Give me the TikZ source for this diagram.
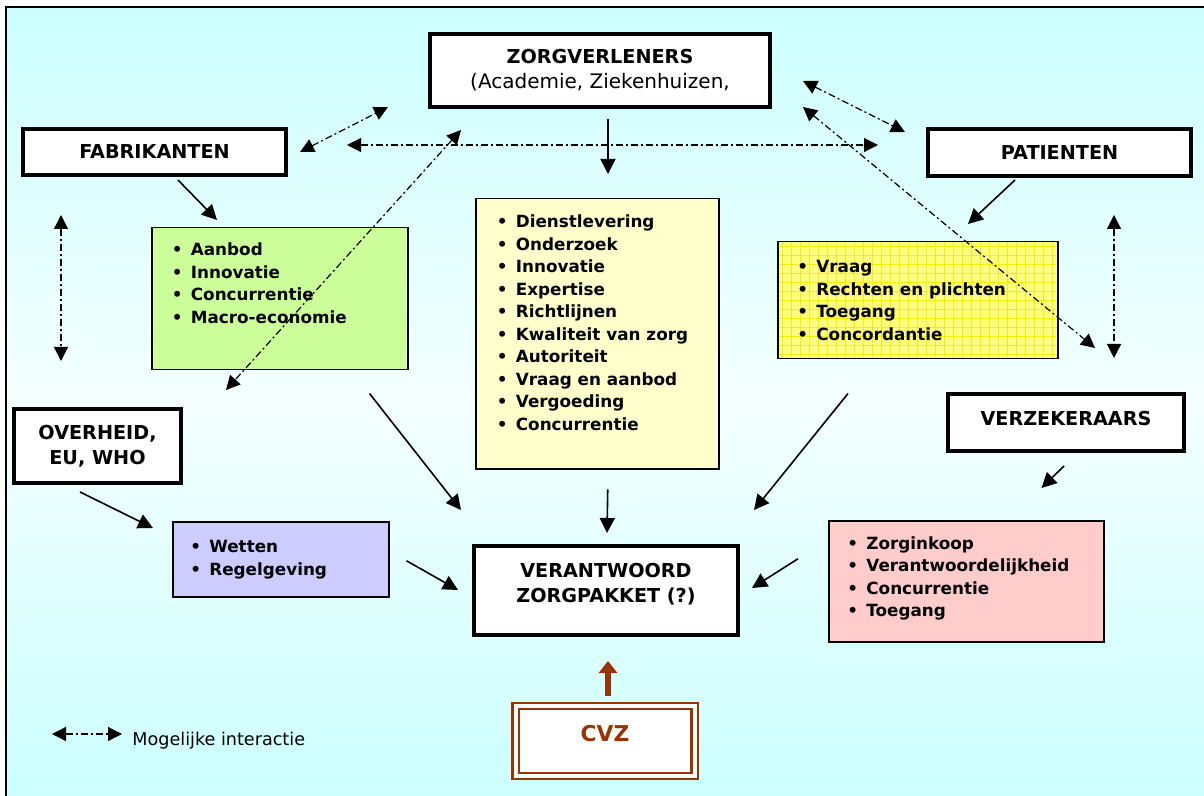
\documentclass[tikz,border=0pt]{standalone}
\usepackage{fontspec}
\setmainfont{DejaVu Sans}
\usetikzlibrary{arrows.meta,positioning}

\definecolor{bgcyan}{HTML}{CCFFFF}
\definecolor{bgwhite}{HTML}{F4FFFF}
\definecolor{grnfill}{HTML}{CCFF99}
\definecolor{midfill}{HTML}{FFFFCC}
\definecolor{yelfill}{HTML}{FFFF80}
\definecolor{yelgrid}{HTML}{F6EE10}
\definecolor{purfill}{HTML}{CCCCFF}
\definecolor{pinkfill}{HTML}{FFCCCC}
\definecolor{cvzred}{HTML}{993300}

\newcommand{\itm}[1]{\makebox[9.5pt][l]{\textbullet}#1}

\tikzset{%
  >={Triangle[length=7.5pt,width=7.5pt]},
  % Specifications for style of nodes:
        headbox/.style = {rectangle, draw=black, line width=2pt, fill=white,
                          inner sep=0pt, align=center,
                          font=\bfseries\fontsize{9.6}{12.5}\selectfont},
        listbox/.style = {rectangle, draw=black, line width=0.75pt,
                          inner sep=0pt, anchor=north west},
          items/.style = {inner sep=0pt, align=left,
                          font=\bfseries\fontsize{8.4}{11.25}\selectfont},
         cvzbox/.style = {rectangle, draw=cvzred, line width=1.2pt, double=white,
                          double distance=2pt, text=cvzred, text depth=8pt,
                          minimum width=89.5pt, minimum height=35pt,
                          font=\bfseries\fontsize{10.9}{13}\selectfont},
  % Specifications for style of connectors:
         effect/.style = {->, line width=0.8pt},
       cvzarrow/.style = {-{Triangle[length=6pt,width=9pt]}, line width=3pt, draw=cvzred},
       interact/.style = {{Triangle[length=7pt,width=7pt]}-{Triangle[length=7pt,width=7pt]},
                          line width=0.6pt, dash pattern=on 3.5pt off 1.5pt on 1pt off 1.5pt},
}

\begin{document}
\begin{tikzpicture}[x=0.5pt, y=-0.5pt]
\useasboundingbox (0,0) rectangle (1204,796);

% background
\fill[white] (0,0) rectangle (1204,796);
\shade[top color=bgcyan, bottom color=bgwhite] (6,7) rectangle (1204,400);
\shade[top color=bgwhite, bottom color=bgcyan] (6,400) rectangle (1204,796);
\draw[line width=1pt] (1204,7) -- (6,7) -- (6,796);

\node (zorg)   [headbox, minimum width=170pt, minimum height=36.5pt] at (600,70.5)
  {ZORGVERLENERS\\{\mdseries\fontsize{10}{12.5}\selectfont (Academie, Ziekenhuizen,}};

\node (fab)    [headbox, minimum width=131.5pt, minimum height=23pt] at (154.5,152) {FABRIKANTEN};

\node (pat)    [headbox, minimum width=131.5pt, minimum height=23.5pt] at (1059.5,152.5) {PATIENTEN};

\node (overh)  [headbox, minimum width=83.5pt, minimum height=37pt] at (97.5,446) {OVERHEID,\\EU, WHO};

\node (verz)   [headbox, minimum width=118pt, minimum height=28.5pt, text depth=4.5pt] at (1066,422.5) {VERZEKERAARS};

\node (verant) [headbox, minimum width=132pt, minimum height=44.5pt, text depth=7.5pt] at (606,590.5)
  {VERANTWOORD\\ZORGPAKKET (?)};

\node (cvz)    [cvzbox, fill=white] at (605,741) {CVZ};

\node (grnbox) [listbox, fill=grnfill, minimum width=128pt, minimum height=71pt] at (151,227) {};
\node (grnlist) [items, below right=7.75pt and 10.25pt of grnbox.north west]
  {\itm{Aanbod}\\\itm{Innovatie}\\\itm{Concurrentie}\\\itm{Macro-economie}};

\node (midbox) [listbox, fill=midfill, minimum width=121.5pt, minimum height=135pt] at (475,198) {};
\node (midlist) [items, below right=8.25pt and 10.75pt of midbox.north west]
  {\itm{Dienstlevering}\\\itm{Onderzoek}\\\itm{Innovatie}\\\itm{Expertise}\\\itm{Richtlijnen}\\
   \itm{Kwaliteit van zorg}\\\itm{Autoriteit}\\\itm{Vraag en aanbod}\\\itm{Vergoeding}\\\itm{Concurrentie}};

\node (yelbox) [listbox, fill=yelfill, minimum width=140pt, minimum height=58.5pt,
  path picture={\draw[yelgrid, line width=0.3pt, step=4.5pt]
    (path picture bounding box.south west) grid (path picture bounding box.north east);}] at (777,241) {};
\node (yellist) [items, below right=9.5pt and 10pt of yelbox.north west]
  {\itm{Vraag}\\\itm{Rechten en plichten}\\\itm{Toegang}\\\itm{Concordantie}};

\node (purbox) [listbox, fill=purfill, minimum width=108pt, minimum height=37.5pt] at (172,521) {};
\node (purlist) [items, below right=9.5pt and 9pt of purbox.north west]
  {\itm{Wetten}\\\itm{Regelgeving}};

\node (pinkbox) [listbox, fill=pinkfill, minimum width=137.5pt, minimum height=60.5pt] at (828,520) {};
\node (pinklist) [items, below right=8pt and 9.5pt of pinkbox.north west]
  {\itm{Zorginkoop}\\\itm{Verantwoordelijkheid}\\\itm{Concurrentie}\\\itm{Toegang}};

% influences
\draw[effect] ([shift={(8,10)}]zorg.south) -- ([shift={(133,-24)}]midbox.north west);
\draw[effect] ([shift={(23.5,3)}]fab.south) -- ([shift={(66,-7)}]grnbox.north west);
\draw[effect] ([shift={(-44.5,2)}]pat.south) -- ([shift={(191,-17)}]yelbox.north west);
\draw[effect] ([shift={(-17.5,7)}]overh.south) -- ([shift={(-19,7)}]purbox.north west);
\draw[effect] ([shift={(-2,13)}]verz.south) -- ([shift={(-63,-32)}]pinkbox.north east);
\draw[effect] ([shift={(-39,23)}]grnbox.south east) -- ([shift={(-11,-34)}]verant.north west);
\draw[effect] ([shift={(10.5,20)}]midbox.south) -- ([shift={(1,-11)}]verant.north);
\draw[effect] ([shift={(71,34)}]yelbox.south west) -- ([shift={(14,-34)}]verant.north east);
\draw[effect] ([shift={(17,1.5)}]purbox.east) -- ([shift={(-14,-0.5)}]verant.west);
\draw[effect] ([shift={(-30,-22.5)}]pinkbox.west) -- ([shift={(12,-2.5)}]verant.east);
\draw[cvzarrow] ([shift={(3,-9)}]cvz.north) -- ([shift={(2,24)}]verant.south);

% possible interactions
\draw[interact] ([shift={(12,0)}]fab.east) -- ([shift={(-40,-2)}]zorg.south west);
\draw[interact] ([shift={(59,-7)}]fab.east) -- ([shift={(-48,-7.5)}]pat.west);
\draw[interact] ([shift={(33,21)}]zorg.south west) -- ([shift={(43,-17)}]overh.north east);
\draw[interact] ([shift={(31,10.5)}]zorg.east) -- ([shift={(-21,5)}]pat.north west);
\draw[interact] ([shift={(31,-2)}]zorg.south east) -- ([shift={(29,-44)}]verz.north);
\draw[interact] ([shift={(40,38)}]fab.south west) -- ([shift={(49,-46)}]overh.north west);
\draw[interact] ([shift={(-79,37)}]pat.south east) -- ([shift={(-72,-34)}]verz.north east);

% legend
\node (legtxt) [anchor=base west, inner sep=0pt, font=\fontsize{8.8}{11}\selectfont] at (132,745.5) {Mogelijke interactie};
\coordinate (legend) at (52,734);
\draw[interact] (legend) -- ([shift={(-10,-11.5)}]legtxt.base west);
\end{tikzpicture}
\end{document}
